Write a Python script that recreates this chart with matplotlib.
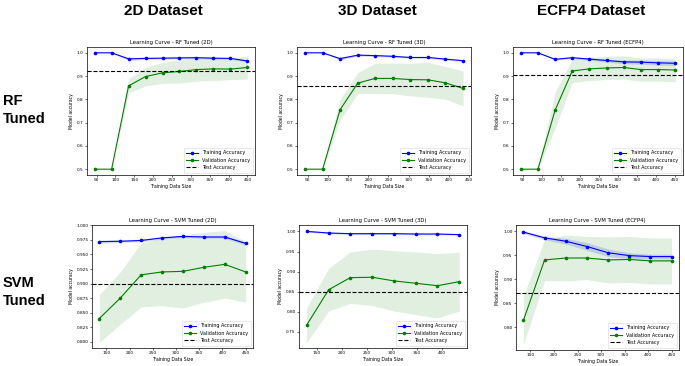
import numpy as np
import matplotlib
matplotlib.use('Agg')
import matplotlib.pyplot as plt

# training sizes
sizes_rf_2d = [45, 90, 135, 180, 225, 270, 315, 360, 405, 450]
sizes_rf_3d = [43, 87, 130, 174, 217, 261, 304, 348, 391, 435]
sizes_rf_ecfp = [45, 90, 135, 180, 225, 270, 315, 360, 405, 450]
sizes_svm_2d = [135, 180, 225, 270, 315, 360, 405, 450]
sizes_svm_3d = [130, 174, 217, 261, 304, 348, 391, 435]
sizes_svm_ecfp = [135, 180, 225, 270, 315, 360, 405, 450]

# RF tuned - 2D
rf_2d_train = [1.0, 1.0, 0.974, 0.976, 0.977, 0.978, 0.979, 0.977, 0.976, 0.965]
rf_2d_train_std = [0.0, 0.0, 0.006, 0.005, 0.004, 0.004, 0.004, 0.004, 0.004, 0.005]
rf_2d_val = [0.5, 0.5, 0.858, 0.898, 0.914, 0.920, 0.928, 0.931, 0.930, 0.937]
rf_2d_val_std = [0.0, 0.0, 0.03, 0.04, 0.045, 0.05, 0.05, 0.05, 0.045, 0.05]
rf_2d_test = 0.924

# RF tuned - 3D
rf_3d_train = [1.0, 1.0, 0.975, 0.990, 0.988, 0.985, 0.980, 0.980, 0.973, 0.966]
rf_3d_train_std = [0.0, 0.0, 0.006, 0.004, 0.004, 0.004, 0.004, 0.004, 0.004, 0.004]
rf_3d_val = [0.5, 0.5, 0.755, 0.870, 0.890, 0.890, 0.885, 0.884, 0.871, 0.847]
rf_3d_val_std = [0.0, 0.0, 0.045, 0.045, 0.065, 0.066, 0.07, 0.075, 0.07, 0.075]
rf_3d_test = 0.858

# RF tuned - ECFP4
rf_ecfp_train = [1.0, 1.0, 0.972, 0.979, 0.973, 0.967, 0.961, 0.960, 0.957, 0.955]
rf_ecfp_train_std = [0.0, 0.0, 0.004, 0.004, 0.005, 0.007, 0.008, 0.009, 0.01, 0.01]
rf_ecfp_val = [0.5, 0.5, 0.753, 0.922, 0.931, 0.935, 0.937, 0.928, 0.928, 0.926]
rf_ecfp_val_std = [0.0, 0.0, 0.078, 0.05, 0.05, 0.05, 0.05, 0.05, 0.05, 0.05]
rf_ecfp_test = 0.906

# SVM tuned - 2D
svm_2d_train = [0.972, 0.9727, 0.974, 0.9785, 0.981, 0.980, 0.980, 0.969]
svm_2d_train_std = [0.003, 0.002, 0.002, 0.002, 0.002, 0.002, 0.002, 0.003]
svm_2d_val = [0.840, 0.875, 0.915, 0.920, 0.921, 0.928, 0.933, 0.920]
svm_2d_val_std = [0.041, 0.045, 0.055, 0.058, 0.063, 0.06, 0.058, 0.052]
svm_2d_test = 0.900

# SVM tuned - 3D
svm_3d_train = [1.0, 0.996, 0.9943, 0.9943, 0.9943, 0.9935, 0.9935, 0.992]
svm_3d_train_std = [0.002, 0.002, 0.002, 0.002, 0.002, 0.002, 0.002, 0.002]
svm_3d_val = [0.767, 0.855, 0.885, 0.886, 0.877, 0.871, 0.865, 0.875]
svm_3d_val_std = [0.043, 0.053, 0.064, 0.07, 0.075, 0.078, 0.08, 0.073]
svm_3d_test = 0.850

# SVM tuned - ECFP4
svm_ecfp_train = [0.998, 0.986, 0.979, 0.968, 0.955, 0.949, 0.947, 0.947]
svm_ecfp_train_std = [0.003, 0.004, 0.006, 0.008, 0.008, 0.006, 0.005, 0.005]
svm_ecfp_val = [0.814, 0.940, 0.944, 0.944, 0.940, 0.941, 0.938, 0.938]
svm_ecfp_val_std = [0.05, 0.043, 0.048, 0.045, 0.048, 0.048, 0.048, 0.048]
svm_ecfp_test = 0.870

col_titles = ['2D Dataset', '3D Dataset', 'ECFP4 Dataset']
row_titles = ['RF\nTuned', 'SVM\nTuned']

W, H = 685, 366
fig = plt.figure(figsize=(W / 100, H / 100), dpi=100)

plt.rcParams['font.size'] = 3
plt.rcParams['axes.linewidth'] = 0.5


def rect(left, top, right, bottom):
    return [left / W, 1 - bottom / H, (right - left) / W, (bottom - top) / H]


def draw_curve(box, title, sizes, train, train_std, val, val_std, test, yticks, yfmt):
    ax = fig.add_axes(rect(*box))
    sizes = np.array(sizes)
    train = np.array(train)
    train_std = np.array(train_std)
    val = np.array(val)
    val_std = np.array(val_std)
    ax.plot(sizes, train, 'o-', color='blue', lw=0.8, ms=1.6, label='Training Accuracy')
    ax.fill_between(sizes, train - train_std, train + train_std, color='blue', alpha=0.15, lw=0)
    ax.plot(sizes, val, 'o-', color='green', lw=0.8, ms=1.6, label='Validation Accuracy')
    ax.fill_between(sizes, val - val_std, val + val_std, color='green', alpha=0.12, lw=0)
    ax.axhline(test, color='black', ls='--', lw=0.8, label='Test Accuracy')
    ax.set_title(title, fontsize=3.8, pad=2)
    ax.set_xlabel('Training Data Size', fontsize=3.3, labelpad=1)
    ax.set_ylabel('Model accuracy', fontsize=3.3, labelpad=2)
    ax.set_yticks(yticks)
    ax.set_yticklabels([yfmt.format(t) for t in yticks])
    ax.tick_params(labelsize=3.1, length=1.5, width=0.4, pad=1)
    leg = ax.legend(loc='lower right', fontsize=3.5, handlelength=2.5, borderpad=0.5)
    leg.get_frame().set_linewidth(0.4)
    return ax


ax = draw_curve((87, 47, 255, 175), 'Learning Curve - RF Tuned (2D)', sizes_rf_2d,
                rf_2d_train, rf_2d_train_std, rf_2d_val, rf_2d_val_std, rf_2d_test,
                [0.5, 0.6, 0.7, 0.8, 0.9, 1.0], '{:.1f}')
ax.set_xticks(range(50, 451, 50))
ax = draw_curve((297, 47, 471, 175), 'Learning Curve - RF Tuned (3D)', sizes_rf_3d,
                rf_3d_train, rf_3d_train_std, rf_3d_val, rf_3d_val_std, rf_3d_test,
                [0.5, 0.6, 0.7, 0.8, 0.9, 1.0], '{:.1f}')
ax.set_xticks(range(50, 451, 50))
ax = draw_curve((513, 47, 683, 175), 'Learning Curve - RF Tuned (ECFP4)', sizes_rf_ecfp,
                rf_ecfp_train, rf_ecfp_train_std, rf_ecfp_val, rf_ecfp_val_std, rf_ecfp_test,
                [0.5, 0.6, 0.7, 0.8, 0.9, 1.0], '{:.1f}')
ax.set_xticks(range(50, 451, 50))

ax = draw_curve((92, 225, 253, 348), 'Learning Curve - SVM Tuned (2D)', sizes_svm_2d,
                svm_2d_train, svm_2d_train_std, svm_2d_val, svm_2d_val_std, svm_2d_test,
                [0.8, 0.825, 0.85, 0.875, 0.9, 0.925, 0.95, 0.975, 1.0], '{:.3f}')
ax.set_xticks(range(150, 451, 50))
ax = draw_curve((299, 225, 467, 348), 'Learning Curve - SVM Tuned (3D)', sizes_svm_3d,
                svm_3d_train, svm_3d_train_std, svm_3d_val, svm_3d_val_std, svm_3d_test,
                [0.75, 0.8, 0.85, 0.9, 0.95, 1.0], '{:.2f}')
ax.set_xticks(range(150, 401, 50))
ax = draw_curve((516, 225, 679, 350), 'Learning Curve - SVM Tuned (ECFP4)', sizes_svm_ecfp,
                svm_ecfp_train, svm_ecfp_train_std, svm_ecfp_val, svm_ecfp_val_std, svm_ecfp_test,
                [0.8, 0.85, 0.9, 0.95, 1.0], '{:.2f}')
ax.set_xticks(range(150, 451, 50))

# column and row headers
for x, t in zip([163, 377, 591], col_titles):
    fig.text(x / W, 1 - 11 / H, t, ha='center', va='center', fontsize=11,
             fontweight='bold', family='Liberation Sans')
for y, t in zip([110, 292], row_titles):
    fig.text(3 / W, 1 - y / H, t, ha='left', va='center', fontsize=10.5,
             fontweight='bold', family='Liberation Sans', linespacing=1.3)

fig.savefig('out.png', dpi=100)
